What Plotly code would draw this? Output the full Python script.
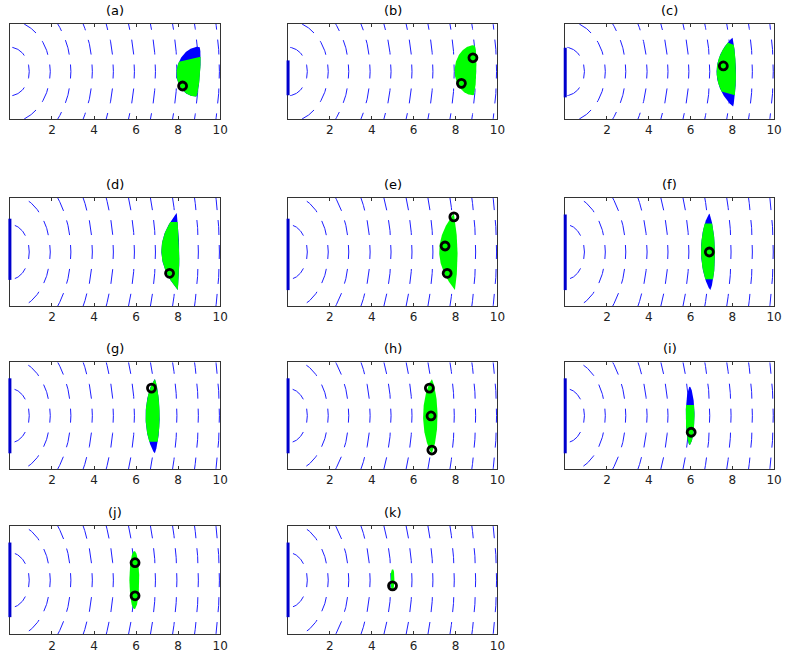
import numpy as np
import plotly.graph_objects as go

# ---------------- data ----------------
panel_labels = ["(a)", "(b)", "(c)", "(d)", "(e)", "(f)", "(g)", "(h)", "(i)", "(j)", "(k)"]
tick_values = [0, 2, 4, 6, 8, 10]
tick_labels = ["", "2", "4", "6", "8", "10"]
x_limits = [0, 10]
y_limits = [-1.8, 1.8]
wave_radii = [0.92, 1.92, 2.9, 3.92, 4.92, 5.92, 6.92, 7.94, 8.96, 9.96]

# region outline (lens): top tip, bottom tip, bulge to the left / right, shape exponent
region_top_x = [9.00, 8.90, 8.01, 7.93, 7.92, 6.90, 6.89, 6.87, 5.96, 5.92, 4.99]
region_top_y = [0.94, 1.00, 1.28, 1.30, 1.28, 1.28, 1.23, 1.23, 0.98, 0.97, 0.36]
region_bot_x = [8.85, 8.85, 8.04, 7.98, 7.97, 6.95, 6.89, 6.87, 5.96, 5.92, 4.99]
region_bot_y = [-0.95, -0.90, -1.33, -1.27, -1.27, -1.27, -1.27, -1.27, -0.99, -0.96, -0.33]
region_left_bulge = [1.00, 0.92, 0.78, 0.755, 0.725, 0.425, 0.44, 0.42, 0.19, 0.24, 0.09]
region_right_bulge = [0.12, 0.12, 0.15, 0.10, 0.15, 0.245, 0.23, 0.27, 0.23, 0.23, 0.09]
region_shape_power = [0.5, 0.5, 0.9, 1.0, 1.0, 0.8, 0.8, 0.8, 0.6, 0.5, 0.3]

# green part of each region: y of upper / lower cut at left and right edge (None = region edge)
green_upper_left = [0.37, None, 1.10, 1.00, None, 0.95, None, None, 0.36, None, None]
green_upper_right = [0.56, None, 1.00, 1.00, None, 0.95, None, None, 0.36, None, None]
green_lower_left = [None, None, -0.76, None, None, -0.91, -0.88, None, None, None, None]
green_lower_right = [None, None, -0.90, None, None, -0.91, -0.88, None, None, None, None]

marker_x = [[8.21], [8.83, 8.28], [7.57], [7.59], [7.92, 7.50, 7.60], [6.90], [6.73],
            [6.75, 6.83, 6.87], [6.03], [5.95, 5.95], [4.99]]
marker_y = [[-0.55], [0.52, -0.45], [0.21], [-0.71], [1.17, 0.20, -0.71], [0.00], [0.93],
            [0.93, -0.01, -1.16], [-0.56], [0.58, -0.52], [-0.19]]

source_top = [None, 0.42, 0.90, 1.11, 1.11, 1.25, 1.26, 1.26, 1.26, 1.25, 1.25]
source_bottom = [None, -0.90, -0.98, -0.93, -1.27, -1.27, -1.27, -1.27, -1.27, -1.23, -1.23]

# ---------------- layout geometry (pixels) ----------------
W, H = 791, 660
col_px = [(10, 222.5), (291, 502.5), (571, 782)]
row_px = [(24, 119), (198, 306), (362.3, 469), (526, 634.3)]

FONT = "DejaVu Sans, Liberation Sans, Arial"
BLUE = "rgb(0,0,255)"
GREEN = "rgb(0,255,0)"
FRAME = "#333333"


def region_x(i, y, side):
    yt, yb = region_top_y[i], region_bot_y[i]
    t = (y - yb) / (yt - yb)
    s = 2 * t - 1
    chord = region_bot_x[i] + t * (region_top_x[i] - region_bot_x[i])
    off = np.clip(1 - s ** 2, 0, None) ** region_shape_power[i]
    if side == "left":
        return chord - region_left_bulge[i] * off
    return chord + region_right_bulge[i] * off


def region_polygon(i, lo_l, hi_l, lo_r, hi_r):
    u = np.linspace(0, 1, 160)
    w = (1 - np.cos(np.pi * u)) / 2
    yl = lo_l + (hi_l - lo_l) * w
    yr = hi_r + (lo_r - hi_r) * w
    xl = region_x(i, yl, "left")
    xr = region_x(i, yr, "right")
    xs = np.concatenate([xl, xr, xl[:1]])
    ys = np.concatenate([yl, yr, yl[:1]])
    return xs, ys


fig = go.Figure()
layout = dict(
    width=W, height=H, margin=dict(l=0, r=0, t=0, b=0),
    paper_bgcolor="white", plot_bgcolor="white", showlegend=False,
    annotations=[], shapes=[],
)

for i, label in enumerate(panel_labels):
    r, c = divmod(i, 3)
    sfx = "" if i == 0 else str(i + 1)
    xa, ya = "x" + sfx, "y" + sfx
    x0, x1 = col_px[c]
    y0, y1 = row_px[r]
    xdom = [x0 / W, x1 / W]
    ydom = [1 - y1 / H, 1 - y0 / H]

    layout["xaxis" + sfx] = dict(
        domain=xdom, anchor=ya, range=x_limits, tickmode="array",
        tickvals=tick_values, ticktext=tick_labels, ticks="inside", ticklen=3,
        tickcolor=FRAME, showline=True, linecolor=FRAME, linewidth=1, mirror="ticks",
        showgrid=False, zeroline=False, tickfont=dict(family=FONT, size=12, color="#222"),
    )
    layout["yaxis" + sfx] = dict(
        domain=ydom, anchor=xa, range=y_limits, showticklabels=False, ticks="",
        showline=True, linecolor=FRAME, linewidth=1, mirror=True,
        showgrid=False, zeroline=False,
    )

    # dashed wavefronts
    wx, wy = [], []
    for rad in wave_radii:
        th_max = np.pi / 2 if rad <= y_limits[1] else np.arcsin(y_limits[1] / rad)
        th = np.linspace(0, th_max, 90)
        for sign in (1, -1):
            wx += list(rad * np.cos(th)) + [None]
            wy += list(sign * rad * np.sin(th)) + [None]
    fig.add_trace(go.Scatter(
        x=wx, y=wy, xaxis=xa, yaxis=ya, mode="lines", hoverinfo="skip",
        line=dict(color="rgb(30,30,255)", width=1, dash="7px,10px,15px,10px,15px,10px,15px,10px"),
    ))

    # region: blue full, green part on top
    yt, yb = region_top_y[i], region_bot_y[i]
    cuts = [green_upper_left[i], green_upper_right[i], green_lower_left[i], green_lower_right[i]]
    has_blue = any(v is not None for v in cuts)
    if has_blue:
        bx, by = region_polygon(i, yb, yt, yb, yt)
        fig.add_trace(go.Scatter(
            x=bx, y=by, xaxis=xa, yaxis=ya, mode="lines", fill="toself",
            fillcolor=BLUE, line=dict(width=0, color=BLUE), hoverinfo="skip",
        ))
    hi_l = yt if green_upper_left[i] is None else green_upper_left[i]
    hi_r = yt if green_upper_right[i] is None else green_upper_right[i]
    lo_l = yb if green_lower_left[i] is None else green_lower_left[i]
    lo_r = yb if green_lower_right[i] is None else green_lower_right[i]
    gx, gy = region_polygon(i, lo_l, hi_l, lo_r, hi_r)
    fig.add_trace(go.Scatter(
        x=gx, y=gy, xaxis=xa, yaxis=ya, mode="lines", fill="toself",
        fillcolor=GREEN, line=dict(width=0, color=GREEN), hoverinfo="skip",
    ))

    # markers
    fig.add_trace(go.Scatter(
        x=marker_x[i], y=marker_y[i], xaxis=xa, yaxis=ya, mode="markers",
        marker=dict(symbol="circle-open", size=8, color="black", line=dict(width=2.8, color="black")),
        hoverinfo="skip", cliponaxis=False,
    ))

    # source segment on the left edge
    if source_top[i] is not None:
        span = y_limits[1] - y_limits[0]
        layout["shapes"].append(dict(
            type="line", xref=xa + " domain", yref=ya + " domain",
            x0=0, x1=0,
            y0=(source_bottom[i] - y_limits[0]) / span,
            y1=(source_top[i] - y_limits[0]) / span,
            line=dict(color="rgb(0,0,205)", width=3), layer="above",
        ))

    # panel title
    layout["annotations"].append(dict(
        text=label, xref="paper", yref="paper", x=(xdom[0] + xdom[1]) / 2, y=ydom[1],
        xanchor="center", yanchor="bottom", yshift=4, showarrow=False,
        font=dict(family=FONT, size=13, color="black"),
    ))

fig.update_layout(**layout)
fig.write_html("out.html")
